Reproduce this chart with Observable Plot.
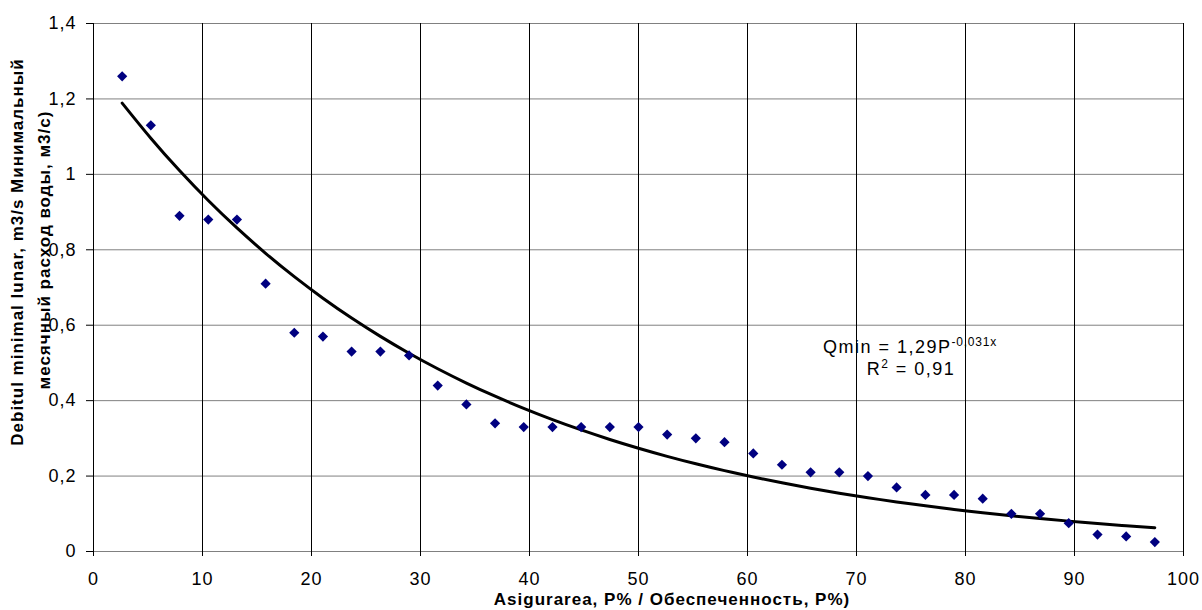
<!DOCTYPE html>
<html><head><meta charset="utf-8">
<script src="https://cdn.jsdelivr.net/npm/d3@7"></script>
<script src="https://cdn.jsdelivr.net/npm/@observablehq/plot@0.6"></script>
<style>body{margin:0;background:#fff;} svg{display:block;}</style>
</head><body><div id="chart"></div>
<script>
const pValues = [2.63, 5.26, 7.89, 10.53, 13.16, 15.79, 18.42, 21.05, 23.68, 26.32, 28.95, 31.58, 34.21, 36.84, 39.47, 42.11, 44.74, 47.37, 50.00, 52.63, 55.26, 57.89, 60.53, 63.16, 65.79, 68.42, 71.05, 73.68, 76.32, 78.95, 81.58, 84.21, 86.84, 89.47, 92.11, 94.74, 97.37];
const qValues = [1.26, 1.13, 0.89, 0.88, 0.88, 0.71, 0.58, 0.57, 0.53, 0.53, 0.52, 0.44, 0.39, 0.34, 0.33, 0.33, 0.33, 0.33, 0.33, 0.31, 0.30, 0.29, 0.26, 0.23, 0.21, 0.21, 0.20, 0.17, 0.15, 0.15, 0.14, 0.10, 0.10, 0.075, 0.045, 0.04, 0.025];
const xTicks = [0, 10, 20, 30, 40, 50, 60, 70, 80, 90, 100];
const yTicks = [0, 0.2, 0.4, 0.6, 0.8, 1, 1.2, 1.4];
const yTickLabels = ["0", "0,2", "0,4", "0,6", "0,8", "1", "1,2", "1,4"];
const trendCoef = 1.29;
const trendExp = -0.031;
const xTitle = "Asigurarea, P% / Обеспеченность, P%)";
const yTitle1 = "Debitul minimal lunar, m3/s Минимальный";
const yTitle2 = "месячный расход воды, м3/с)";
const eqMain = "Qmin = 1,29P";
const eqSup = "-0,031x";
const r2Main = "R";
const r2Sup = "2";
const r2Rest = " = 0,91";

const points = pValues.map((p, i) => ({p, q: qValues[i]}));
const trend = pValues.map(p => ({p, q: trendCoef * Math.exp(trendExp * p)}));

const chart = Plot.plot({
  width: 1202, height: 610,
  marginLeft: 93, marginRight: 19, marginTop: 23, marginBottom: 59,
  style: {fontFamily: "'Liberation Sans', Arial, sans-serif", fontSize: "18px", color: "#000", background: "#fff", letterSpacing: "1px"},
  x: {domain: [0, 100]},
  y: {domain: [0, 1.4]},
  marks: [
    Plot.gridY(yTicks, {stroke: "#808080", strokeOpacity: 1}),
    Plot.gridX(xTicks, {stroke: "#000", strokeOpacity: 1}),
    Plot.axisX(xTicks, {tickSize: 5, tickPadding: 16, label: null, stroke: "#000"}),
    Plot.axisY(yTicks, {tickSize: 7, tickPadding: 10, label: null, stroke: "#000",
      tickFormat: d => yTickLabels[yTicks.indexOf(d)]}),
    Plot.line(trend, {x: "p", y: "q", stroke: "#000", strokeWidth: 3, curve: "natural"}),
    Plot.dot(points, {x: "p", y: "q", symbol: "diamond2", r: 4.6, fill: "#000080", stroke: null})
  ]
});

const svg = d3.select(chart);
function addText(x, y, txt, rot) {
  return svg.append("text").attr("text-anchor", "middle")
    .attr("font-weight", "bold").attr("font-size", "17px").attr("fill", "#000")
    .attr("letter-spacing", "1px")
    .attr("transform", `translate(${x},${y})` + (rot ? ` rotate(${rot})` : ""))
    .attr("dy", rot ? "0.35em" : null)
    .text(txt);
}
addText(672, 605, xTitle, 0);
addText(17, 252, yTitle1, -90);
addText(44, 250, yTitle2, -90);

const eq = svg.append("text").attr("text-anchor", "middle").attr("x", 910).attr("y", 353)
  .attr("font-size", "18px").attr("letter-spacing", "1.5px").attr("fill", "#000");
eq.append("tspan").text(eqMain);
eq.append("tspan").attr("font-size", "12px").attr("letter-spacing", "0.8px").attr("dy", -7).text(eqSup);
const r2 = svg.append("text").attr("text-anchor", "middle").attr("x", 911).attr("y", 375)
  .attr("font-size", "18px").attr("letter-spacing", "1.5px").attr("fill", "#000");
r2.append("tspan").text(r2Main);
r2.append("tspan").attr("font-size", "12px").attr("dy", -7).text(r2Sup);
r2.append("tspan").attr("dy", 7).text(r2Rest);

document.getElementById("chart").appendChild(chart);
</script>
</body></html>
